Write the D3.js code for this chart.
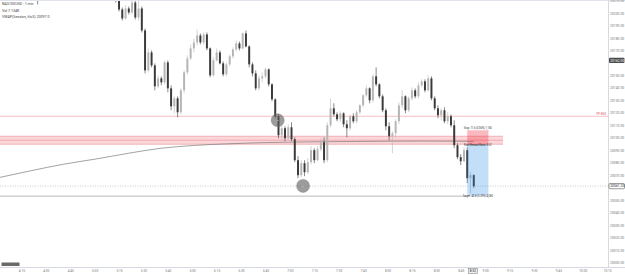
<!DOCTYPE html>
<html lang="en">
<head>
<meta charset="UTF-8">
<title>1 min chart</title>
<script src="https://d3js.org/d3.v7.min.js"></script>
<style>
  body { margin: 0; background: #fff; }
  svg { display: block; }
  text { font-family: Roboto, "Liberation Sans", sans-serif; }
</style>
</head>
<body>
<div id="chart"></div>
<script>
// ---- data ----
const firstTick = new Date(2024, 4, 14, 4, 15);   // first time label
const viewMinutes = [-13.15, 360.5];               // visible time window around firstTick
const firstCandleOffset = 8;                       // minutes after firstTick
const candleMinutes = 2;

// [open, high, low, close]
const candles = [
  [20224.4,20227.6,20216.4,20219.6],[20219.6,20221.2,20206.8,20214.0],[20214.0,20222.8,20212.4,20221.2],
  [20221.2,20228.4,20219.6,20226.0],[20226.0,20232.4,20224.4,20230.8],[20230.8,20237.2,20229.2,20234.8],
  [20234.8,20236.4,20230.0,20232.4],[20232.4,20239.6,20230.8,20238.0],[20238.0,20244.4,20236.4,20242.0],
  [20242.0,20243.6,20237.2,20239.6],[20239.6,20241.2,20234.0,20235.6],[20235.6,20240.4,20234.0,20238.8],
  [20238.8,20239.6,20232.4,20234.0],[20234.0,20235.6,20228.4,20230.0],[20230.0,20234.0,20227.6,20232.4],
  [20232.4,20233.2,20225.2,20226.8],[20226.8,20228.4,20221.2,20223.6],[20223.6,20227.6,20222.0,20226.0],
  [20226.0,20226.8,20219.6,20221.2],[20221.2,20222.8,20216.4,20218.8],[20218.8,20222.0,20217.2,20220.4],
  [20220.4,20221.2,20214.8,20216.4],[20216.4,20218.0,20212.4,20214.8],[20214.8,20218.8,20213.2,20217.2],
  [20217.2,20218.0,20211.6,20213.2],[20213.2,20214.8,20208.4,20210.8],[20210.8,20212.4,20201.2,20202.8],
  [20202.8,20204.4,20194.0,20195.6],[20195.6,20206.0,20194.8,20203.6],[20203.6,20205.2,20198.8,20200.4],
  [20200.4,20210.0,20198.8,20208.4],[20208.4,20210.8,20194.8,20196.4],[20196.4,20210.0,20194.0,20203.6],
  [20203.6,20205.2,20184.4,20186.0],[20186.0,20187.6,20151.6,20154.0],[20154.0,20171.6,20152.4,20168.4],
  [20168.4,20170.0,20156.4,20158.0],[20158.0,20159.6,20138.0,20141.2],[20141.2,20150.0,20139.6,20147.6],
  [20147.6,20149.2,20142.0,20144.4],[20144.4,20162.0,20142.8,20160.4],[20160.4,20162.0,20136.4,20139.6],
  [20139.6,20142.0,20122.0,20125.2],[20125.2,20133.2,20119.6,20131.6],[20131.6,20133.2,20116.4,20120.4],
  [20120.4,20139.6,20118.8,20138.0],[20138.0,20154.0,20135.6,20152.4],[20152.4,20166.0,20150.8,20163.6],
  [20163.6,20174.8,20162.0,20171.6],[20171.6,20179.6,20168.4,20176.4],[20176.4,20186.8,20174.0,20182.0],
  [20182.0,20183.6,20174.8,20176.4],[20176.4,20184.4,20174.8,20182.8],[20182.8,20184.4,20170.0,20171.6],
  [20171.6,20172.4,20148.4,20150.0],[20150.0,20164.4,20149.2,20162.0],[20162.0,20171.6,20161.2,20168.4],
  [20168.4,20170.0,20158.8,20159.6],[20159.6,20161.2,20149.2,20150.8],[20150.8,20160.4,20149.2,20158.8],
  [20158.8,20166.8,20157.2,20165.2],[20165.2,20172.4,20163.6,20170.8],[20170.8,20178.0,20169.2,20175.6],
  [20175.6,20177.2,20170.0,20171.6],[20171.6,20184.4,20170.8,20183.6],[20183.6,20186.0,20172.4,20173.2],
  [20173.2,20174.0,20156.4,20158.8],[20158.8,20160.4,20149.2,20151.6],[20151.6,20154.0,20138.0,20139.6],
  [20139.6,20150.0,20138.0,20147.6],[20147.6,20152.4,20144.4,20149.2],[20149.2,20156.4,20147.6,20154.8],
  [20154.8,20155.6,20141.2,20142.8],[20142.8,20143.6,20129.2,20130.8],[20130.8,20131.6,20115.6,20117.2],
  [20117.2,20118.8,20099.6,20102.0],[20102.0,20110.0,20098.8,20107.6],[20107.6,20109.2,20097.2,20099.6],
  [20099.6,20110.8,20098.0,20108.4],[20108.4,20112.4,20097.2,20098.8],[20098.8,20100.4,20080.4,20082.0],
  [20082.0,20085.2,20067.6,20070.0],[20070.0,20082.0,20068.4,20079.6],[20079.6,20082.0,20069.2,20072.4],
  [20072.4,20083.6,20070.8,20080.4],[20080.4,20093.2,20078.8,20090.0],[20090.0,20091.6,20079.6,20082.0],
  [20082.0,20093.2,20081.2,20090.8],[20090.8,20099.6,20089.2,20096.4],[20096.4,20100.4,20079.6,20082.0],
  [20082.0,20112.4,20080.4,20110.0],[20110.0,20131.6,20108.4,20123.6],[20123.6,20127.6,20117.2,20118.8],
  [20118.8,20120.4,20113.2,20114.8],[20114.8,20121.2,20112.4,20119.6],[20119.6,20120.4,20108.4,20110.8],
  [20110.8,20114.0,20100.4,20107.6],[20107.6,20118.8,20106.0,20117.2],[20117.2,20119.6,20111.6,20113.2],
  [20113.2,20122.0,20111.6,20120.4],[20120.4,20126.8,20118.8,20126.0],[20126.0,20134.8,20124.4,20134.0],
  [20134.0,20142.0,20132.4,20139.6],[20139.6,20140.4,20127.6,20130.0],[20130.0,20150.8,20128.4,20149.2],
  [20149.2,20156.4,20141.2,20142.8],[20142.8,20143.6,20131.6,20133.2],[20133.2,20134.8,20120.4,20122.0],
  [20122.0,20123.6,20106.0,20109.2],[20109.2,20112.4,20098.0,20101.2],[20101.2,20105.2,20087.6,20103.6],
  [20103.6,20114.8,20100.4,20113.2],[20113.2,20128.4,20110.8,20126.0],[20126.0,20138.0,20123.6,20133.2],
  [20133.2,20134.0,20119.6,20122.0],[20122.0,20133.2,20120.4,20131.6],[20131.6,20140.4,20130.0,20138.0],
  [20138.0,20139.6,20131.6,20133.2],[20133.2,20144.4,20131.6,20142.0],[20142.0,20146.8,20140.4,20145.2],
  [20145.2,20146.8,20136.4,20138.0],[20138.0,20150.0,20137.2,20147.6],[20147.6,20149.2,20130.0,20131.6],
  [20131.6,20133.2,20122.0,20123.6],[20123.6,20126.0,20115.6,20118.0],[20118.0,20123.6,20114.0,20122.0],
  [20122.0,20124.4,20111.6,20113.2],[20113.2,20120.4,20110.8,20117.2],[20117.2,20118.8,20108.4,20110.0],
  [20110.0,20114.0,20091.6,20094.0],[20094.0,20095.6,20082.8,20084.4],[20084.4,20086.8,20078.0,20081.2],
  [20081.2,20092.4,20080.4,20090.0],[20090.0,20092.4,20063.6,20067.6],[20067.6,20072.4,20055.6,20070.0],
  [20070.0,20070.8,20059.6,20061.2]
];

// VWAP, sampled at candle indexes
const vwapIndex = [-11, -1, 9, 19, 29, 39, 49, 59, 69, 79, 89, 99, 109, 119, 129, 135];
const vwapValues = [20068.0, 20073.6, 20078.8, 20083.0, 20087.6, 20091.6, 20093.8, 20095.1,
                    20096.0, 20096.5, 20096.8, 20097.0, 20097.2, 20097.3, 20097.2, 20097.0];

const priceTicks = [20000, 20010, 20020, 20030, 20040, 20050, 20060, 20070, 20080, 20090, 20100,
                    20110, 20120, 20130, 20140, 20150, 20160, 20170, 20180, 20190, 20200, 20210];
const priceDomain = [19999.6, 20210.4];

const tpLevel = 20117.2;
const zone = [20101.2, 20098.0, 20094.8];      // top, middle, bottom
const lowLevel = 20053.2;
const crossPrice = 20162.0;
const crossMinute = 277.5;
const position = { startMin: 274, endMin: 287, entry: 20094.4, stop: 20106.0, target: 20053.6 };
const markers = [ { min: 157.5, price: 20114.0 }, { min: 173.1, price: 20061.4 } ];
const legend = ["NAS100USD · 1 min", "Vol  7.134K", "VWAP(Session, hlc3)  20097.0"];

// ---- layout ----
const W = 625, H = 275, plotW = 608, plotH = 267;
const minute = m => new Date(firstTick.getTime() + m * 60000);
const candleTime = i => minute(firstCandleOffset + i * candleMinutes);

const x = d3.scaleTime().domain(viewMinutes.map(minute)).range([0, plotW]);
const y = d3.scaleLinear().domain(priceDomain).range([263, 0]);

const svg = d3.select("#chart").append("svg").attr("width", W).attr("height", H);
svg.append("rect").attr("width", W).attr("height", H).attr("fill", "#fff");

svg.append("clipPath").attr("id", "plot")
  .append("rect").attr("width", plotW).attr("height", plotH);
const g = svg.append("g").attr("clip-path", "url(#plot)");

// pink resistance band
g.append("rect")
  .attr("x", 0).attr("width", x(minute(position.endMin + 9)))
  .attr("y", y(zone[0])).attr("height", y(zone[2]) - y(zone[0]))
  .attr("fill", "rgba(242,54,69,0.2)");
zone.forEach(v => {
  g.append("line").attr("x1", 0).attr("x2", x(minute(position.endMin + 9)))
    .attr("y1", y(v)).attr("y2", y(v))
    .attr("stroke", "#e88a94").attr("stroke-width", 0.6);
});

// TP line
g.append("line").attr("x1", 0).attr("x2", plotW)
  .attr("y1", y(tpLevel)).attr("y2", y(tpLevel))
  .attr("stroke", "#f1a3ab").attr("stroke-width", 0.7);
g.append("text").attr("x", plotW - 2).attr("y", y(tpLevel) - 1)
  .attr("text-anchor", "end").attr("font-size", 3.2).attr("fill", "#e0505e")
  .text("TP 853");

// low horizontal line
g.append("line").attr("x1", 0).attr("x2", x(minute(position.startMin)))
  .attr("y1", y(lowLevel)).attr("y2", y(lowLevel))
  .attr("stroke", "#8a8a8a").attr("stroke-width", 0.6);

// VWAP
const vwapLine = d3.line()
  .x((d, i) => x(candleTime(vwapIndex[i])))
  .y(d => y(d))
  .curve(d3.curveMonotoneX);
g.append("path").datum(vwapValues).attr("d", vwapLine)
  .attr("fill", "none").attr("stroke", "#7a7a7a").attr("stroke-width", 0.7);

// current price line
const last = candles[candles.length - 1][3];
g.append("line").attr("x1", 0).attr("x2", plotW)
  .attr("y1", y(last)).attr("y2", y(last))
  .attr("stroke", "#9a9a9a").attr("stroke-width", 0.5).attr("stroke-dasharray", "1,1.5");

// candles
const step = x(candleTime(1)) - x(candleTime(0));
const bodyW = step * 0.6;
const cg = g.append("g");
candles.forEach((d, i) => {
  const [o, h, l, c] = d;
  const cx = x(candleTime(i));
  const col = c >= o ? "#b5b5b5" : "#3a3a3a";
  cg.append("line").attr("x1", cx).attr("x2", cx)
    .attr("y1", y(h)).attr("y2", y(l))
    .attr("stroke", col).attr("stroke-width", 0.6);
  cg.append("rect").attr("x", cx - bodyW / 2).attr("width", bodyW)
    .attr("y", y(Math.max(o, c))).attr("height", Math.max(0.6, Math.abs(y(o) - y(c))))
    .attr("fill", col);
});

// short position tool
const px0 = x(minute(position.startMin)), px1 = x(minute(position.endMin));
g.append("rect").attr("x", px0).attr("width", px1 - px0)
  .attr("y", y(position.stop)).attr("height", y(position.entry) - y(position.stop))
  .attr("fill", "rgba(242,54,69,0.35)");
g.append("rect").attr("x", px0).attr("width", px1 - px0)
  .attr("y", y(position.entry)).attr("height", y(position.target) - y(position.entry))
  .attr("fill", "rgba(41,140,230,0.28)");
g.append("line").attr("x1", px0).attr("x2", px1)
  .attr("y1", y(position.entry)).attr("y2", y(position.entry))
  .attr("stroke", "#777").attr("stroke-width", 0.5);
const pmid = (px0 + px1) / 2;
[
  [position.stop, -1.2, "Stop: 11.6 (0.06%) 1,160"],
  [position.entry, 1.2, "Risk/Reward Ratio: 3.52"],
  [position.target, 1.6, "Target: 40.8 (0.20%) 4,080"]
].forEach(([p, dy, t]) => {
  g.append("text").attr("x", pmid).attr("y", y(p) + dy)
    .attr("text-anchor", "middle").attr("font-size", 2.6).attr("fill", "#333").text(t);
});

// markers
markers.forEach(m => {
  g.append("circle").attr("cx", x(minute(m.min))).attr("cy", y(m.price)).attr("r", 6.5)
    .attr("fill", "rgba(90,90,90,0.6)").attr("stroke", "#777").attr("stroke-width", 0.4);
  g.append("text").attr("x", x(minute(m.min))).attr("y", y(m.price) + 0.8)
    .attr("text-anchor", "middle").attr("font-size", 2.4).attr("fill", "#ddd").text("B");
});

// legend
legend.forEach((t, i) => {
  svg.append("text").attr("x", 2).attr("y", 5 + i * 6.5)
    .attr("font-size", 3.6).attr("fill", "#444").text(t);
});

// borders
svg.append("line").attr("x1", 0).attr("x2", W).attr("y1", 0.5).attr("y2", 0.5)
  .attr("stroke", "#e0e3eb").attr("stroke-width", 1);
svg.append("line").attr("x1", 0).attr("x2", W).attr("y1", plotH + 0.5).attr("y2", plotH + 0.5)
  .attr("stroke", "#d6d9e0").attr("stroke-width", 1);
svg.append("line").attr("x1", plotW + 0.5).attr("x2", plotW + 0.5).attr("y1", 0).attr("y2", plotH)
  .attr("stroke", "#d6d9e0").attr("stroke-width", 1);

// price axis: the tags replace tick labels they would cover
const tagPrices = [crossPrice, last];
const shownTicks = priceTicks.filter(p => tagPrices.every(t => Math.abs(y(p) - y(t)) > 5.5));
const yAxis = d3.axisRight(y).tickValues(shownTicks).tickSize(0).tickPadding(2)
  .tickFormat(d3.format(".2f"));
const ya = svg.append("g").attr("transform", `translate(${plotW},0)`).call(yAxis);
ya.select(".domain").remove();
ya.selectAll("text").attr("font-size", 3.4).attr("fill", "#7a7a7a").attr("font-family", "Roboto, sans-serif");

function priceTag(p, fill, stroke, color) {
  svg.append("rect").attr("x", plotW + 1).attr("y", y(p) - 2.6).attr("width", 15.5).attr("height", 5.2)
    .attr("rx", 1).attr("fill", fill).attr("stroke", stroke).attr("stroke-width", 0.5);
  svg.append("text").attr("x", plotW + 2.2).attr("y", y(p) + 1.2)
    .attr("font-size", 3.4).attr("fill", color).text(d3.format(".2f")(p));
}
priceTag(crossPrice, "#4a4a4a", "none", "#fff");
priceTag(last, "#fff", "#333", "#222");

// time axis
const ct = x(minute(crossMinute));
const xAxis = d3.axisBottom(x).ticks(d3.timeMinute.every(15)).tickSize(0).tickPadding(2.5)
  .tickFormat(d3.timeFormat("%-H:%M"));
const xa = svg.append("g").attr("transform", `translate(0,${plotH})`).call(xAxis);
xa.select(".domain").remove();
xa.selectAll("text").attr("font-size", 3.2).attr("fill", "#7a7a7a").attr("font-family", "Roboto, sans-serif");
xa.selectAll(".tick").filter(d => Math.abs(x(d) - ct) < 7).remove();

// crosshair time tag
svg.append("rect").attr("x", ct - 4.5).attr("y", plotH + 1.5).attr("width", 9).attr("height", 5)
  .attr("fill", "#eee").attr("stroke", "#777").attr("stroke-width", 0.5);
svg.append("text").attr("x", ct).attr("y", plotH + 5.2).attr("text-anchor", "middle")
  .attr("font-size", 3.2).attr("fill", "#222").text(d3.timeFormat("%-H:%M")(minute(crossMinute)));

// badge bottom left
svg.append("rect").attr("x", 1.5).attr("y", 262.5).attr("width", 18).attr("height", 3.5)
  .attr("fill", "#6a6a6a");
</script>
</body>
</html>
